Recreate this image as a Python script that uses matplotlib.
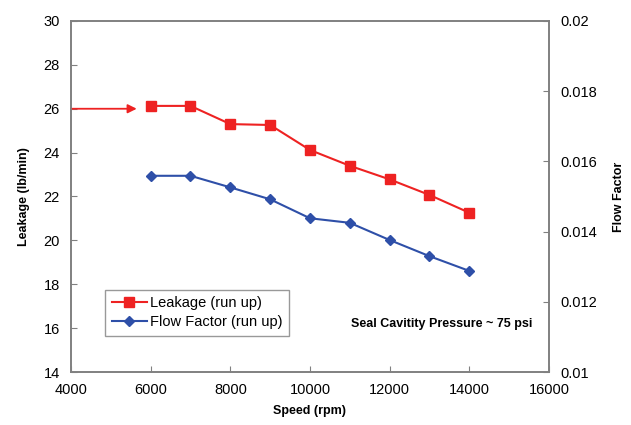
import numpy as np
from matplotlib import pyplot as plt

plt.rcParams['font.family'] = ['Liberation Sans', 'DejaVu Sans']

speed = [6000, 7000, 8000, 9000, 10000, 11000, 12000, 13000, 14000]
leakage = [26.13, 26.13, 25.30, 25.26, 24.12, 23.40, 22.78, 22.07, 21.26]
flow_factor = [0.01559, 0.01559, 0.01526, 0.01492, 0.01438, 0.01425, 0.01376, 0.01330, 0.01288]
arrow_start = (4000, 26.0)
arrow_end = (5650, 26.0)

RED = '#ee2222'
BLUE = '#2e4fa8'
GREY = '#808080'

fig = plt.figure(figsize=(6.31, 4.25), dpi=100)
ax = fig.add_axes([0.1125, 0.1247, 0.7575, 0.8259])
ax2 = ax.twinx()

l1, = ax.plot(speed, leakage, color=RED, marker='s', markersize=7, lw=1.5,
              label='Leakage (run up)')
l2, = ax2.plot(speed, flow_factor, color=BLUE, marker='D', markersize=5.5, lw=1.5,
               label='Flow Factor (run up)')

ax.annotate('', xy=arrow_end, xytext=arrow_start,
            arrowprops=dict(arrowstyle='-|>', color=RED, lw=1.3, mutation_scale=13,
                            shrinkA=0, shrinkB=0))

ax.set_xlim(4000, 16000)
ax.set_ylim(14, 30)
ax2.set_ylim(0.01, 0.02)
ax.set_xticks(np.arange(4000, 16001, 2000))
ax.set_yticks(np.arange(14, 31, 2))
ax2.set_yticks(np.arange(0.01, 0.0201, 0.002))
ax2.set_yticklabels(['0.01', '0.012', '0.014', '0.016', '0.018', '0.02'])

for a in (ax, ax2):
    for s in a.spines.values():
        s.set_color(GREY)
        s.set_linewidth(1.2)
    a.tick_params(direction='in', length=4, color=GREY, labelsize=10.5, pad=8)

ax.set_xlabel('Speed (rpm)', fontweight='bold', fontsize=9, labelpad=6)
ax.set_ylabel('Leakage (lb/min)', fontweight='bold', fontsize=9, labelpad=10)
ax2.set_ylabel('Flow Factor', fontweight='bold', fontsize=9, labelpad=12)

leg = ax.legend(handles=[l1, l2], loc='lower left', bbox_to_anchor=(0.072, 0.103),
                fancybox=False, frameon=True, fontsize=10.5, handlelength=2.4,
                handletextpad=0.2, borderpad=0.45, labelspacing=0.35,
                borderaxespad=0)
leg.get_frame().set_edgecolor(GREY)
leg.get_frame().set_linewidth(1.0)

ax.text(0.966, 0.137, 'Seal Cavitity Pressure ~ 75 psi', transform=ax.transAxes,
        ha='right', va='center', fontsize=9, fontweight='bold')

fig.savefig('out.png', dpi=100)
